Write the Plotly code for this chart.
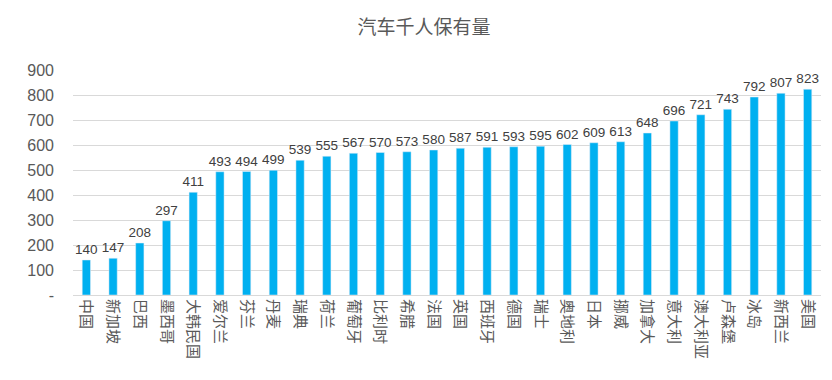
import plotly.graph_objects as go

countries = ["中国", "新加坡", "巴西", "墨西哥", "大韩民国", "爱尔兰", "芬兰", "丹麦", "瑞典", "荷兰",
             "葡萄牙", "比利时", "希腊", "法国", "英国", "西班牙", "德国", "瑞士", "奥地利", "日本",
             "挪威", "加拿大", "意大利", "澳大利亚", "卢森堡", "冰岛", "新西兰", "美国"]
values = [140, 147, 208, 297, 411, 493, 494, 499, 539, 555, 567, 570, 573, 580, 587, 591, 593,
          595, 602, 609, 613, 648, 696, 721, 743, 792, 807, 823]
ytick_vals = [0, 100, 200, 300, 400, 500, 600, 700, 800, 900]
ytick_text = ["-", "100", "200", "300", "400", "500", "600", "700", "800", "900"]

fig = go.Figure(go.Bar(
    x=countries, y=values, marker_color="#00B0F0",
    text=[str(v) for v in values], textposition="outside", cliponaxis=False,
    constraintext="none",
    textfont=dict(family="Liberation Sans, Arial", size=13.5, color="#404040"),
))
fig.update_layout(
    width=832, height=380, margin=dict(l=65, r=19, t=62, b=93),
    paper_bgcolor="white", plot_bgcolor="white", bargap=0.69, showlegend=False,
    title=dict(text="汽车千人保有量", x=0.5, xanchor="center", y=0.95, yanchor="middle",
               font=dict(family="Noto Sans CJK SC", size=19, color="#595959")),
)
fig.update_yaxes(range=[0, 900], tickvals=ytick_vals, ticktext=ytick_text, showgrid=True,
                 gridcolor="#D9D9D9", gridwidth=1, zeroline=False, showline=False,
                 tickfont=dict(family="Liberation Sans, Arial", size=16, color="#595959"),
                 ticks="", ticklabelstandoff=18)
fig.update_xaxes(tickangle=90, showline=True, linecolor="#D9D9D9", linewidth=1, ticks="",
                 tickfont=dict(family="Noto Sans CJK SC", size=15, color="#595959"))
fig.write_html("out.html")
